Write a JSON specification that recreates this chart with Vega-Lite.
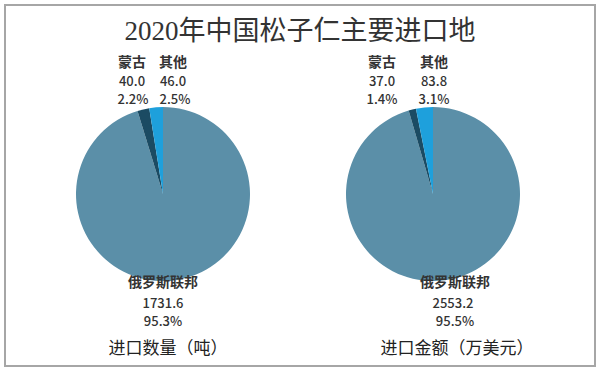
{
  "$schema": "https://vega.github.io/schema/vega-lite/v6.json",
  "width": 600,
  "height": 371,
  "autosize": {"type": "fit", "contains": "padding"},
  "padding": 5,
  "background": "white",
  "config": {"view": {"stroke": "#a6a6a6", "strokeWidth": 2}},
  "title": {
    "text": "2020年中国松子仁主要进口地",
    "font": "Liberation Serif, Noto Sans CJK SC",
    "fontSize": 27,
    "fontWeight": "normal",
    "color": "#333333",
    "anchor": "middle",
    "baseline": "middle",
    "offset": -54
  },
  "data": {
    "values": [
      {"panel": "数量", "name": "俄罗斯联邦", "value": 1731.6, "pct": 0.953},
      {"panel": "数量", "name": "蒙古", "value": 40.0, "pct": 0.022},
      {"panel": "数量", "name": "其他", "value": 46.0, "pct": 0.025},
      {"panel": "金额", "name": "俄罗斯联邦", "value": 2553.2, "pct": 0.955},
      {"panel": "金额", "name": "蒙古", "value": 37.0, "pct": 0.014},
      {"panel": "金额", "name": "其他", "value": 83.8, "pct": 0.031}
    ]
  },
  "encoding": {
    "x": {"field": "panel", "type": "nominal", "scale": {"type": "point", "domain": ["数量", "金额"], "range": [158, 428], "padding": 0}, "axis": null},
    "y": {"datum": 0, "type": "quantitative", "scale": {"domain": [-1, 1.1], "zero": false, "nice": false}, "axis": null}
  },
  "layer": [
    {
      "transform": [{"stack": "value", "groupby": ["panel"], "offset": "normalize", "as": ["v0", "v1"]}],
      "mark": {"type": "arc", "outerRadius": 87},
      "encoding": {
        "theta": {"field": "v0", "type": "quantitative", "scale": {"domain": [0, 1], "range": [0, 6.283185]}},
        "theta2": {"field": "v1"},
        "color": {"field": "name", "type": "nominal", "scale": {"domain": ["俄罗斯联邦", "蒙古", "其他"], "range": ["#5b8fa8", "#1b4b63", "#1ea0dc"]}, "legend": null}
      }
    },
    {
      "mark": {
        "type": "text", "font": "Noto Sans CJK SC", "fontSize": 14, "fontWeight": "bold", "color": "#333333", "baseline": "middle", "align": "center",
        "dx": {"expr": "datum.name === '俄罗斯联邦' ? (datum.panel === '金额' ? 22 : 0) : datum.name === '蒙古' ? (datum.panel === '金额' ? -51 : -31) : (datum.panel === '金额' ? 1 : 10)"},
        "dy": {"expr": "datum.name === '俄罗斯联邦' ? 89 : -131"}
      },
      "encoding": {"text": {"field": "name", "type": "nominal"}}
    },
    {
      "mark": {
        "type": "text", "font": "Noto Sans CJK SC", "fontSize": 13, "fontWeight": 500, "color": "#333333", "baseline": "middle", "align": "center",
        "dx": {"expr": "datum.name === '俄罗斯联邦' ? (datum.panel === '金额' ? 20 : 0) : datum.name === '蒙古' ? (datum.panel === '金额' ? -51 : -31) : (datum.panel === '金额' ? 1 : 10)"},
        "dy": {"expr": "datum.name === '俄罗斯联邦' ? 110 : -112"}
      },
      "encoding": {"text": {"field": "value", "type": "quantitative", "format": ".1f"}}
    },
    {
      "mark": {
        "type": "text", "font": "Noto Sans CJK SC", "fontSize": 13, "fontWeight": 500, "color": "#333333", "baseline": "middle", "align": "center",
        "dx": {"expr": "datum.name === '俄罗斯联邦' ? (datum.panel === '金额' ? 22 : 0) : datum.name === '蒙古' ? (datum.panel === '金额' ? -51 : -30) : (datum.panel === '金额' ? 1 : 12)"},
        "dy": {"expr": "datum.name === '俄罗斯联邦' ? 128 : -94"}
      },
      "encoding": {"text": {"field": "pct", "type": "quantitative", "format": ".1%"}}
    },
    {
      "data": {"values": [{"panel": "数量", "caption": "进口数量（吨）"}, {"panel": "金额", "caption": "进口金额（万美元）"}]},
      "mark": {
        "type": "text", "font": "Noto Sans CJK SC", "fontSize": 17, "color": "#222222", "baseline": "middle", "align": "center",
        "dx": {"expr": "datum.panel === '金额' ? 24 : 5"},
        "dy": 155
      },
      "encoding": {"text": {"field": "caption", "type": "nominal"}}
    }
  ]
}
